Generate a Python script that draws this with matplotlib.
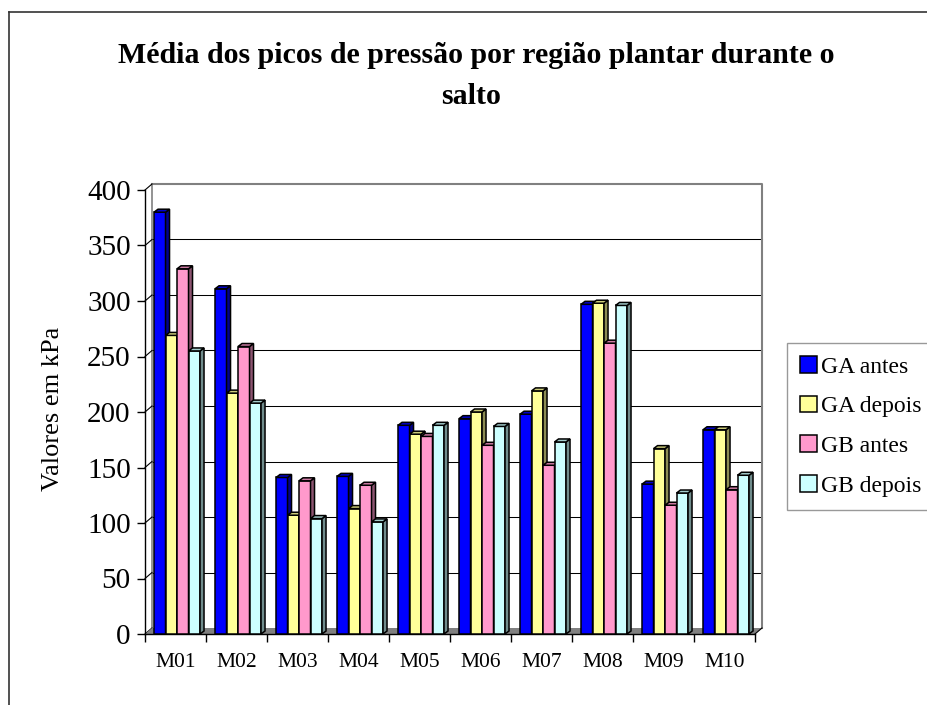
import matplotlib
matplotlib.use("Agg")
import matplotlib.pyplot as plt
from matplotlib.patches import Polygon
from matplotlib.lines import Line2D
import numpy as np

categories = ["M01", "M02", "M03", "M04", "M05", "M06", "M07", "M08", "M09", "M10"]
series_names = ["GA antes", "GA depois", "GB antes", "GB depois"]
ga_antes = [380, 311, 141, 142, 188, 194, 198, 297, 135, 184]
ga_depois = [269, 217, 107, 113, 180, 200, 219, 298, 167, 184]
gb_antes = [329, 259, 138, 134, 178, 170, 152, 262, 116, 130]
gb_depois = [255, 208, 104, 101, 188, 187, 173, 296, 127, 143]
yticks = [0, 50, 100, 150, 200, 250, 300, 350, 400]

series_values = [ga_antes, ga_depois, gb_antes, gb_depois]
colors = ["#0000FF", "#FFFF99", "#FF99CC", "#CCFFFF"]

plt.rcParams["font.family"] = ["Liberation Serif", "DejaVu Serif"]

W, H = 927, 705
fig = plt.figure(figsize=(W / 100, H / 100), dpi=100)
fig.patch.set_facecolor("white")

# axes = front plane of 3D box
ax_l, ax_r, ax_b, ax_t = 145, 755, 634, 190
ax = fig.add_axes([ax_l / W, (H - ax_b) / H, (ax_r - ax_l) / W, (ax_b - ax_t) / H])
ax.set_xlim(0, len(categories))
ax.set_ylim(0, 400)
ax.patch.set_visible(False)
for s in ax.spines.values():
    s.set_visible(False)

px_x = len(categories) / (ax_r - ax_l)   # data units per pixel
px_y = 400 / (ax_b - ax_t)

# wall / floor depth offset
wdx, wdy = 7 * px_x, 6 * px_y
ncat = len(categories)

# back wall gridlines
for t in yticks[1:-1]:
    ax.plot([wdx, ncat + wdx], [t + wdy, t + wdy], color="black", lw=0.75, zorder=1, clip_on=False)
# back wall border (top, right, left corner)
ax.plot([wdx, ncat + wdx, ncat + wdx], [400 + wdy, 400 + wdy, wdy], color="#808080", lw=1.5,
        zorder=1, clip_on=False)
ax.plot([wdx, wdx], [wdy, 400 + wdy], color="#808080", lw=1.2, zorder=1, clip_on=False)
# left wall diagonals
for t in yticks:
    ax.plot([0, wdx], [t, t + wdy], color="black", lw=0.8, zorder=1, clip_on=False)
# floor
floor = Polygon([[0, 0], [ncat, 0], [ncat + wdx, wdy], [wdx, wdy]], closed=True,
                facecolor="#808080", edgecolor="none", zorder=1.5, clip_on=False)
ax.add_patch(floor)
ax.plot([ncat, ncat + wdx], [0, wdy], color="black", lw=0.8, zorder=1.6, clip_on=False)
# axis lines
ax.plot([0, 0], [0, 400], color="black", lw=1.0, zorder=1.6, clip_on=False)
ax.plot([0, ncat], [0, 0], color="black", lw=1.0, zorder=1.6, clip_on=False)

# bars
bw = 0.1885
start = 0.148
bdx, bdy = 4 * px_x, 3 * px_y
x = np.arange(ncat)
for i, (vals, col) in enumerate(zip(series_values, colors)):
    base_rgb = np.array(matplotlib.colors.to_rgb(col))
    side = base_rgb * 0.55
    top = base_rgb * 0.8
    centers = x + start + bw * (i + 0.5)
    ax.bar(centers, vals, width=bw, color=col, edgecolor="black", linewidth=1.1,
           zorder=2 + i, label=series_names[i], clip_on=False)
    for c, v in zip(centers, vals):
        r = c + bw / 2
        l = c - bw / 2
        ax.add_patch(Polygon([[r, 0], [r + bdx, bdy], [r + bdx, v + bdy], [r, v]], closed=True,
                             facecolor=side, edgecolor="black", linewidth=1.1, zorder=2 + i,
                             clip_on=False))
        ax.add_patch(Polygon([[l, v], [r, v], [r + bdx, v + bdy], [l + bdx, v + bdy]], closed=True,
                             facecolor=top, edgecolor="black", linewidth=1.1, zorder=2 + i,
                             clip_on=False))

# ticks
ax.set_yticks(yticks)
ax.set_yticklabels([str(t) for t in yticks], fontsize=21)
ax.tick_params(axis="y", direction="out", length=6, width=1.0, pad=4.3, colors="black")
ax.set_xticks(np.arange(ncat + 1))
ax.set_xticklabels([])
ax.set_xticks(x + 0.5, minor=True)
ax.set_xticklabels(categories, minor=True, fontsize=15.5)
ax.tick_params(axis="x", which="major", direction="out", length=6, width=1.0)
ax.tick_params(axis="x", which="minor", length=0, pad=13.5)

# y label
fig.text(53 / W, (H - 409) / H, "Valores em kPa", rotation=90, fontsize=19,
         ha="center", va="center")

# title
fig.text(476 / W, (H - 63) / H, "Média dos picos de pressão por região plantar durante o",
         fontsize=21.5, fontweight="bold", ha="center", va="baseline")
fig.text(471 / W, (H - 104) / H, "salto", fontsize=21.5, fontweight="bold",
         ha="center", va="baseline")

# legend
handles, labels = ax.get_legend_handles_labels()
leg = fig.legend(handles, labels, loc="upper left", bbox_to_anchor=(787 / W, (H - 343) / H),
                 fontsize=17, frameon=True, fancybox=False, handlelength=0.7,
                 handleheight=0.7, handletextpad=0.2, labelspacing=0.77, borderpad=0.55,
                 borderaxespad=0)
leg.get_frame().set_edgecolor("#808080")
leg.get_frame().set_linewidth(1.0)

# outer frame (left and top)
fig.add_artist(Line2D([9 / W, 9 / W], [0, (H - 12) / H], color="#333333", lw=1.2))
fig.add_artist(Line2D([9 / W, 1], [(H - 12) / H, (H - 12) / H], color="#333333", lw=1.2))

fig.savefig("out.png", dpi=100)
